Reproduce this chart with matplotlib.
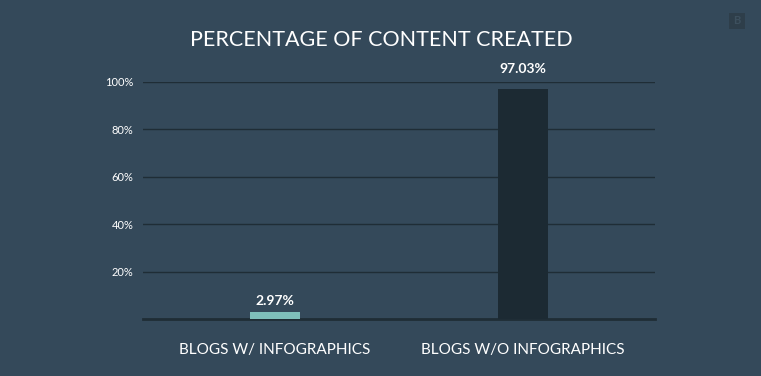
import matplotlib.pyplot as plt
from matplotlib.patches import Rectangle

categories = ["BLOGS W/ INFOGRAPHICS", "BLOGS W/O INFOGRAPHICS"]
values = [2.97, 97.03]
value_labels = ["2.97%", "97.03%"]
yticks = [20, 40, 60, 80, 100]
ytick_labels = ["20%", "40%", "60%", "80%", "100%"]

bg = "#34495a"
bar_colors = ["#7fbfbb", "#1c2a33"]
grid_color = "#1f2d36"

plt.rcParams["font.family"] = ["Lato", "DejaVu Sans"]

fig = plt.figure(figsize=(7.61, 3.76), dpi=100, facecolor=bg)
ax = fig.add_axes([143 / 761, 57 / 376, 512 / 761, 237 / 376])
ax.set_facecolor(bg)

x = range(len(categories))
ax.bar(x, values, width=0.2, color=bar_colors, zorder=3)
for xi, v, lab in zip(x, values, value_labels):
    # label just above the bar, pushed over the 100% line when the bar is tall
    ly = v + 2 if v + 8 < 100 else 103
    ax.text(xi, ly, lab, ha="center", va="bottom", color="white",
            fontsize=10, fontweight="bold", clip_on=False)

ax.set_xlim(-0.53, 1.53)
ax.set_ylim(0, 100)
ax.set_yticks(yticks)
ax.set_yticklabels(ytick_labels)
ax.set_xticks(list(x))
ax.set_xticklabels(categories)
ax.tick_params(axis="y", length=0, pad=7, colors="white", labelsize=8)
ax.tick_params(axis="x", length=0, pad=17, colors="white", labelsize=11)
ax.yaxis.grid(True, color=grid_color, linewidth=1, zorder=0)
for s in ["top", "right", "left"]:
    ax.spines[s].set_visible(False)
ax.spines["bottom"].set_color(grid_color)
ax.spines["bottom"].set_linewidth(2)

fig.text(381 / 761, 1 - 40 / 376, "PERCENTAGE OF CONTENT CREATED", ha="center",
         va="center", color="white", fontsize=15.5)

# small logo mark top right
fig.patches.append(Rectangle((729 / 761, 1 - 29 / 376), 16 / 761, 16 / 376,
                             transform=fig.transFigure, facecolor="#2e3e4a",
                             edgecolor="none"))
fig.text(737 / 761, 1 - 21 / 376, "B", ha="center", va="center",
         color="#3d505e", fontsize=8, fontweight="bold")

fig.savefig("out.png", dpi=100, facecolor=bg)
